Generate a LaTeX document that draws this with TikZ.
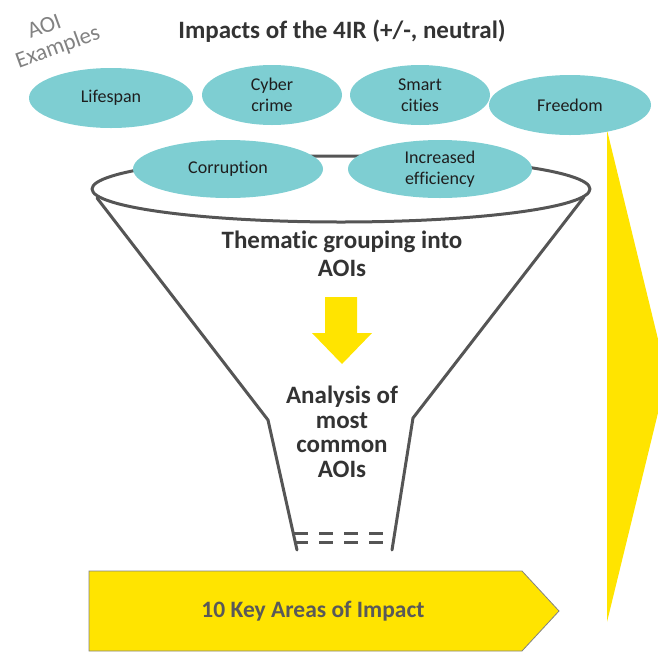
\documentclass[tikz,border=0pt]{standalone}
\usepackage{fontspec}
\setmainfont{Carlito}[Ligatures=NoCommon]
\usetikzlibrary{shapes.geometric}
\definecolor{teal4ir}{RGB}{126,206,210}
\definecolor{sun}{RGB}{255,228,0}
\definecolor{ink}{RGB}{30,30,30}
\definecolor{heading}{RGB}{51,51,51}
\definecolor{funnelgray}{RGB}{85,85,85}
\definecolor{softgray}{RGB}{130,130,130}
\definecolor{labelgray}{RGB}{89,89,89}
\tikzset{
  oval/.style={ellipse, fill=teal4ir, draw=none, inner sep=0pt, align=center,
    text=ink, font=\fontsize{18}{21}\selectfont},
  funnelline/.style={draw=funnelgray, line width=3pt, line join=round, line cap=round},
  headtext/.style={text=heading, align=center, font=\bfseries\fontsize{25}{24.5}\selectfont},
  sidetext/.style={text=softgray, rotate=20, inner sep=0pt, font=\fontsize{23}{24}\selectfont},
}
\begin{document}
\begin{tikzpicture}[x=1pt, y=-1pt]
  \useasboundingbox (0,0) rectangle (658,665);
  \clip (0,0) rectangle (658,665);

  % large yellow chevron on the right
  \fill[sun] (607,130) -- (667,376) -- (607,622) -- cycle;

  % funnel outline
  \draw[funnelline] (341,189) ellipse [x radius=249, y radius=33];
  \draw[funnelline] (97,198) -- (268,420) -- (297,550);
  \draw[funnelline] (584,197) -- (413,418) -- (392,550);
  \draw[draw=funnelgray, line width=3pt, dash pattern=on 14pt off 11pt] (294,533) -- (384,533);
  \draw[draw=funnelgray, line width=3pt, dash pattern=on 14pt off 11pt] (294,542) -- (384,542);

  % title and side label
  \node[headtext, inner sep=0pt, font=\bfseries\fontsize{25}{28}\selectfont] (title) at (342,31) {Impacts of the 4IR (+/-, neutral)};
  \node[sidetext] (aoi) at (44,26) {AOI};
  \node[sidetext] (examples) at (58,48) {Examples};

  % example areas of impact
  \node[oval, minimum width=164pt, minimum height=60pt] (lifespan) at (111,98) {Lifespan};
  \node[oval, minimum width=140pt, minimum height=60pt] (cyber) at (272,95) {Cyber\\crime};
  \node[oval, minimum width=140pt, minimum height=60pt] (smart) at (420,95) {Smart\\cities};
  \node[oval, minimum width=162pt, minimum height=60pt] (freedom) at (570,105) {Freedom};
  \node[oval, minimum width=190pt, minimum height=58pt] (corruption) at (228,169) {Corruption};
  \node[oval, minimum width=184pt, minimum height=58pt] (efficiency) at (440,169) {Increased\\efficiency};

  % funnel stages
  \node[headtext, font=\bfseries\fontsize{25}{28}\selectfont] (thematic) at (342,254) {Thematic grouping into\\AOIs};
  \fill[sun] (325,297) -- (357,297) -- (357,333) -- (372,333) -- (342,364)
             -- (312,333) -- (325,333) -- cycle;
  \node[headtext] (analysis) at (342,432) {Analysis of\\most\\common\\AOIs};

  % result arrow
  \draw[draw=softgray, line width=0.8pt, fill=sun]
    (89,571) -- (522,571) -- (559,611) -- (522,651) -- (89,651) -- cycle;
  \node[text=labelgray, font=\bfseries\fontsize{23.5}{28}\selectfont] (keyareas) at (313,611) {10 Key Areas of Impact};
\end{tikzpicture}
\end{document}
